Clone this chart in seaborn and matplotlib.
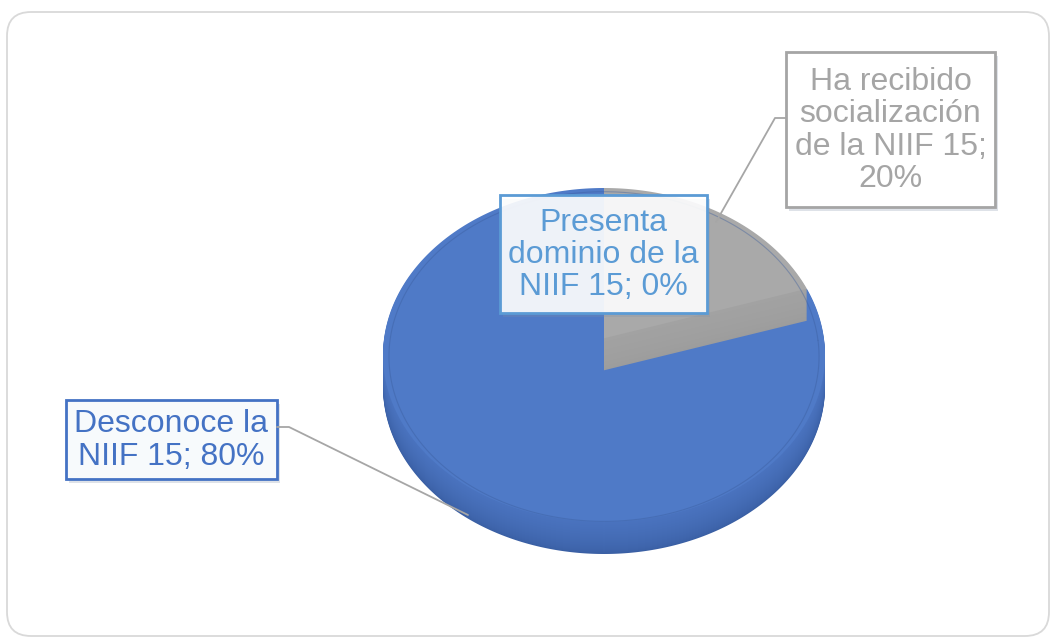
import numpy as np
import matplotlib
matplotlib.use("Agg")
import matplotlib.pyplot as plt
import seaborn as sns
from matplotlib.patches import FancyBboxPatch, Rectangle, Polygon
from matplotlib.colors import to_rgb

sns.set_theme(style="white")
plt.rcParams["font.family"] = ["Liberation Sans", "DejaVu Sans"]

# ---- data (clockwise from 12 o'clock) ----
categories = ["Presenta dominio de la NIIF 15",
              "Ha recibido socialización de la NIIF 15",
              "Desconoce la NIIF 15"]
values = [0, 20, 80]
label_lines = [["Presenta", "dominio de la", "NIIF 15; 0%"],
               ["Ha recibido", "socialización", "de la NIIF 15;", "20%"],
               ["Desconoce la", "NIIF 15; 80%"]]

top_colors = ["#5B9BD5", "#A9A9A9", "#4F7AC7"]
side_bottom = ["#4A7FB5", "#9C9C9C", "#3A5FA4"]
side_top = ["#5189C0", "#A2A2A2", "#4A73BF"]
label_colors = ["#5B9BD5", "#A5A5A5", "#4472C4"]

W, H = 1054, 639
fig = plt.figure(figsize=(W / 100, H / 100), dpi=100)

# background with rounded border
bg = fig.add_axes([0, 0, 1, 1], zorder=0)
bg.set_xlim(0, W); bg.set_ylim(H, 0); bg.axis("off")
bg.add_patch(FancyBboxPatch((7, 12), 1042, 624,
                            boxstyle="round,pad=0,rounding_size=24",
                            fc="white", ec="#D9D9D9", lw=1.3))

# 3D-like pie with perspective tilt
cx, cy, a, b, t = 604, 355, 221, 167, 32
T = t / b
d = 0.10  # perspective strength (projected centre sits above ellipse centre)
pa = fig.add_axes([(cx - a) / W, (H - (cy + b + t)) / H, 2 * a / W, (2 * b + t) / H],
                  zorder=1)
N = 33


def persp(xy):
    x, y = xy[:, 0], xy[:, 1]
    den = 1 + d * y
    return np.column_stack([x * np.sqrt(1 - d * d) / den, (y + d) / den])


def dense(path):
    pts = []
    ts = np.linspace(0, 1, 40)
    for seg, code in path.iter_bezier():
        pts.append(seg(ts))
    return np.vstack(pts)


def mix(c1, c2, f):
    c1, c2 = np.array(to_rgb(c1)), np.array(to_rgb(c2))
    return tuple(c1 * (1 - f) + c2 * f)


shapes = {}
wedges, _ = pa.pie(values, startangle=90, counterclock=False, radius=1,
                   center=(0, 0), wedgeprops=dict(linewidth=0))
for i, w in enumerate(wedges):
    if values[i] > 0:
        shapes[i] = persp(dense(w.get_path()))
    w.remove()

for idx in [2, 1]:
    for k in range(N):
        f = k / (N - 1)
        dy = T * (1 - f)
        col = top_colors[idx] if k == N - 1 else mix(side_bottom[idx], side_top[idx], f ** 0.6)
        pts = shapes[idx].copy()
        pts[:, 1] -= dy
        pa.add_patch(Polygon(pts, closed=True, fc=col, ec="none", lw=0))

# subtle edge ring of top face
th = np.linspace(0, 2 * np.pi, 400)
ring = persp(np.column_stack([0.972 * np.cos(th), 0.985 * np.sin(th) - 0.012]))
pa.plot(ring[:, 0], ring[:, 1], color="#3A5C9C", lw=0.8, alpha=0.4)

pa.set_aspect("auto")
pa.set_xlim(-1, 1)
pa.set_ylim(-1 - T, 1)
pa.axis("off")

# foreground: leader lines + label boxes
fg = fig.add_axes([0, 0, 1, 1], zorder=2)
fg.set_xlim(0, W); fg.set_ylim(H, 0); fg.axis("off")
fg.patch.set_alpha(0)

fg.plot([786, 775, 716], [118, 118, 222], color="#A6A6A6", lw=1.3)
fg.plot([277, 289, 468], [427, 427, 515], color="#A6A6A6", lw=1.3)

boxes = [(500, 195, 707, 313), (786, 52, 995, 207), (66, 400, 277, 479)]
fills = [(1, 1, 1, 0.9), (1, 1, 1, 1), (0.97, 0.98, 0.99, 1)]
for i, (x0, y0, x1, y1) in enumerate(boxes):
    fg.add_patch(Rectangle((x0 + 3, y0 + 4), x1 - x0, y1 - y0,
                           fc="#7F8FA6", ec="none", alpha=0.25))
    fg.add_patch(Rectangle((x0, y0), x1 - x0, y1 - y0,
                           fc=fills[i], ec=label_colors[i], lw=2))
    fg.text((x0 + x1) / 2, (y0 + y1) / 2 + 1, "\n".join(label_lines[i]),
            ha="center", va="center", fontsize=23, color=label_colors[i],
            linespacing=1.1)

fig.savefig("out.png", dpi=100)
